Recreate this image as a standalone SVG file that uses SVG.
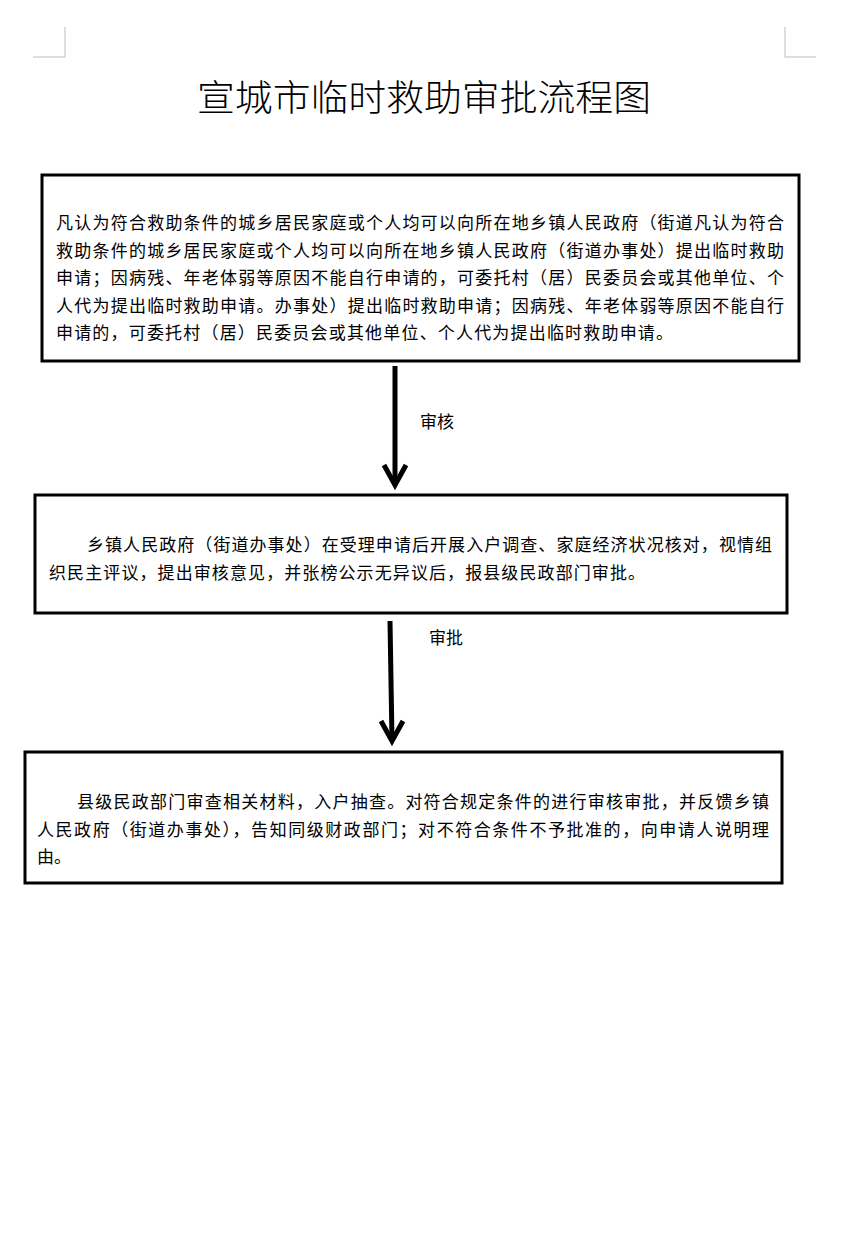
<svg xmlns="http://www.w3.org/2000/svg" width="849" height="1233" viewBox="0 0 849 1233">
<style>
.box{fill:#fff;stroke:#000;stroke-width:3}
.t{font-family:"Noto Sans CJK SC",sans-serif;font-size:17px;fill:#000}
.lbl{font-family:"Noto Sans CJK SC",sans-serif;font-size:17px;fill:#000}
.title{font-family:"Noto Sans CJK SC",sans-serif;font-size:36px;fill:#000;font-weight:300}
.corner{fill:none;stroke:#bdbdbd;stroke-width:1}
.arr{fill:none;stroke:#000;stroke-width:5;stroke-linecap:butt;stroke-linejoin:miter}
</style>
<rect width="849" height="1233" fill="#fff"/>
<g id="corners">
<polyline class="corner" points="65,27 65,57 33,57"/>
<polyline class="corner" points="785,27 785,57 816,57"/>
</g>
<g id="title">
<text class="title" x="197" y="111" textLength="454" lengthAdjust="spacingAndGlyphs">宣城市临时救助审批流程图</text>
</g>
<g id="connectors">
<line class="arr" x1="395" y1="366" x2="395" y2="484"/>
<polyline class="arr" points="384,465 395,485 406,465"/>
<text class="lbl" x="420" y="428">审核</text>
<line class="arr" x1="390" y1="621" x2="392" y2="740"/>
<polyline class="arr" points="381,721 392,741 403,721"/>
<text class="lbl" x="429" y="644">审批</text>
</g>
<g id="node1">
<rect class="box" x="42" y="175" width="757" height="186"/>
<text class="t" x="56" y="229" textLength="728" lengthAdjust="spacing">凡认为符合救助条件的城乡居民家庭或个人均可以向所在地乡镇人民政府（街道凡认为符合</text>
<text class="t" x="56" y="256.5" textLength="728" lengthAdjust="spacing">救助条件的城乡居民家庭或个人均可以向所在地乡镇人民政府（街道办事处）提出临时救助</text>
<text class="t" x="56" y="284" textLength="728" lengthAdjust="spacing">申请；因病残、年老体弱等原因不能自行申请的，可委托村（居）民委员会或其他单位、个</text>
<text class="t" x="56" y="311.5" textLength="728" lengthAdjust="spacing">人代为提出临时救助申请。办事处）提出临时救助申请；因病残、年老体弱等原因不能自行</text>
<text class="t" x="56" y="339" textLength="617" lengthAdjust="spacing">申请的，可委托村（居）民委员会或其他单位、个人代为提出临时救助申请。</text>
</g>
<g id="node2">
<rect class="box" x="35" y="495" width="752" height="118"/>
<text class="t" x="87" y="551" textLength="685" lengthAdjust="spacing">乡镇人民政府（街道办事处）在受理申请后开展入户调查、家庭经济状况核对，视情组</text>
<text class="t" x="49" y="578.5" textLength="596" lengthAdjust="spacing">织民主评议，提出审核意见，并张榜公示无异议后，报县级民政部门审批。</text>
</g>
<g id="node3">
<rect class="box" x="25" y="752" width="757" height="131"/>
<text class="t" x="77" y="808" textLength="692" lengthAdjust="spacing">县级民政部门审查相关材料，入户抽查。对符合规定条件的进行审核审批，并反馈乡镇</text>
<text class="t" x="37" y="836" textLength="732" lengthAdjust="spacing">人民政府（街道办事处），告知同级财政部门；对不符合条件不予批准的，向申请人说明理</text>
<text class="t" x="37" y="863">由。</text>
</g>
</svg>
